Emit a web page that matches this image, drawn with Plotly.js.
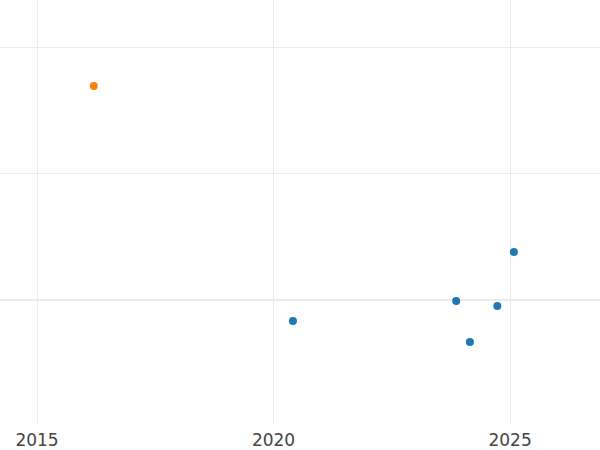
<!DOCTYPE html>
<html>
<head>
<meta charset="utf-8">
<script src="https://cdn.plot.ly/plotly-3.0.1.min.js"></script>
<style>html,body{margin:0;padding:0;background:#fff;}#chart{width:600px;height:450px;}</style>
</head>
<body>
<div id="chart"></div>
<script>
// Series A (blue)
const blueX = [2020.41, 2023.86, 2024.15, 2024.73, 2025.08];
const blueY = [-0.166, -0.008, -0.332, -0.047, 0.379];
// Series B (orange)
const orangeX = [2016.2];
const orangeY = [1.692];
const xTicks = [2015, 2020, 2025];
const xTickLabels = ['2015', '2020', '2025'];

const traces = [
  {x: blueX, y: blueY, type: 'scatter', mode: 'markers',
   marker: {color: '#1f77b4', size: 8}, showlegend: false},
  {x: orangeX, y: orangeY, type: 'scatter', mode: 'markers',
   marker: {color: '#ff7f0e', size: 8}, showlegend: false}
];

const layout = {
  width: 600, height: 450,
  margin: {l: 0, r: 0, t: 0, b: 25, pad: 0},
  paper_bgcolor: '#ffffff', plot_bgcolor: '#ffffff',
  font: {family: 'DejaVu Sans, sans-serif', size: 17, color: '#444'},
  showlegend: false,
  xaxis: {
    range: [2014.218, 2026.9],
    tickvals: xTicks, ticktext: xTickLabels,
    showgrid: true, gridcolor: '#ebebeb', gridwidth: 1,
    zeroline: false, showline: false, ticks: '',
    ticklabelstandoff: 3,
    tickfont: {family: 'DejaVu Sans, sans-serif', size: 17, color: '#444'}
  },
  yaxis: {
    range: [-0.988, 2.372],
    dtick: 1, tick0: 0,
    showticklabels: false,
    showgrid: true, gridcolor: '#ebebeb', gridwidth: 1,
    zeroline: true, zerolinecolor: '#ebebeb', zerolinewidth: 2,
    showline: false, ticks: ''
  }
};

Plotly.newPlot('chart', traces, layout, {displayModeBar: false, staticPlot: true});
</script>
</body>
</html>
